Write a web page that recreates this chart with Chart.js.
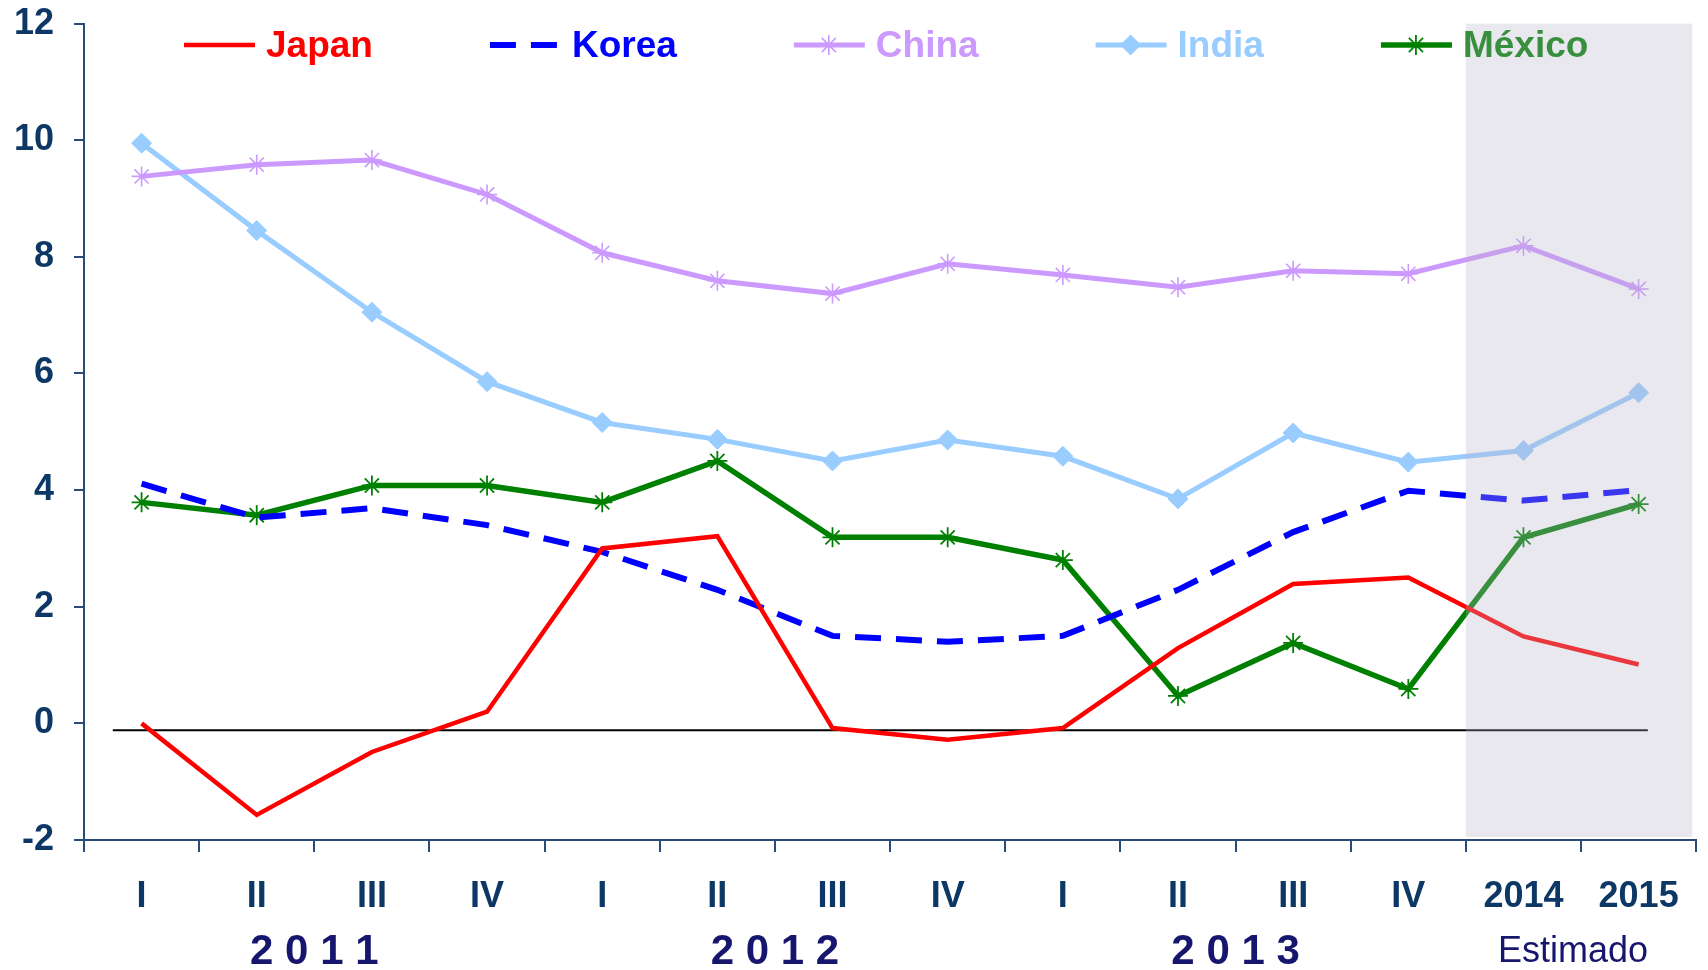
<!DOCTYPE html>
<html>
<head>
<meta charset="utf-8">
<script src="https://cdn.jsdelivr.net/npm/chart.js@4.4.1/dist/chart.umd.min.js"></script>
<style>
  html, body { margin: 0; padding: 0; background: #fff; }
  #chart { display: block; }
</style>
</head>
<body>
<canvas id="chart" width="1708" height="970"></canvas>
<script>
// Categories (quarters, then yearly estimates)
const quarters = ["I", "II", "III", "IV", "I", "II", "III", "IV", "I", "II", "III", "IV", "2014", "2015"];

// Year groups under the quarter labels
const yearLabels = ["2 0 1 1", "2 0 1 2", "2 0 1 3", "Estimado"];
const yearFrom = [0, 4, 8, 12];
const yearTo = [3, 7, 11, 13];

// Series values (% growth)
const japan = [0, -1.57, -0.49, 0.2, 3.0, 3.21, -0.08, -0.28, -0.08, 1.29, 2.39, 2.5, 1.49, 1.01];
const korea = [4.11, 3.53, 3.69, 3.4, 2.94, 2.29, 1.5, 1.4, 1.5, 2.29, 3.28, 3.99, 3.82, 4.0];
const china = [9.38, 9.58, 9.66, 9.07, 8.07, 7.59, 7.37, 7.88, 7.69, 7.48, 7.76, 7.71, 8.19, 7.45];
const india = [9.95, 8.45, 7.05, 5.86, 5.16, 4.87, 4.5, 4.86, 4.58, 3.85, 4.98, 4.48, 4.68, 5.67];
const mexico = [3.79, 3.57, 4.08, 4.08, 3.79, 4.5, 3.19, 3.19, 2.8, 0.47, 1.38, 0.59, 3.19, 3.76];

// Y axis
const yMin = -2;
const yMax = 12;
const yStep = 2;

// Estimated range (shaded) and reference line
const estimatedFrom = 11.5;
const refLineValue = -0.12;

const AXIS_COLOR = "#2b4a78";
const TICK_COLOR = "#0d3866";
const YEAR_COLOR = "#16166e";
const FONT = "'Liberation Sans', Arial, sans-serif";

const datasets = [
  { label: "Japan", data: japan, borderColor: "#ff0000", backgroundColor: "#ff0000",
    borderWidth: 4.5, pointRadius: 0 },
  { label: "Korea", data: korea, borderColor: "#0000ff", backgroundColor: "#0000ff",
    borderWidth: 6, borderDash: [26, 15], pointRadius: 0 },
  { label: "China", data: china, borderColor: "#cc99ff", backgroundColor: "#cc99ff",
    borderWidth: 5, pointStyle: "star", pointRadius: 10, pointBorderWidth: 1.6 },
  { label: "India", data: india, borderColor: "#99ccff", backgroundColor: "#99ccff",
    borderWidth: 5, pointStyle: "rectRot", pointRadius: 10, pointBorderWidth: 1 },
  { label: "México", data: mexico, borderColor: "#008000", backgroundColor: "#008000",
    borderWidth: 5.5, pointStyle: "star", pointRadius: 10, pointBorderWidth: 1.8 }
];

// Reference line, legend, shading, year labels
const decorations = {
  id: "decorations",
  beforeDatasetsDraw(chart) {
    const { ctx, scales: { x, y } } = chart;
    ctx.save();
    // black line just under zero
    ctx.strokeStyle = "#000";
    ctx.lineWidth = 2;
    ctx.beginPath();
    ctx.moveTo(x.getPixelForValue(-0.25), y.getPixelForValue(refLineValue));
    ctx.lineTo(x.getPixelForValue(13.08), y.getPixelForValue(refLineValue));
    ctx.stroke();

    // legend
    ctx.font = "bold 37px " + FONT;
    ctx.textBaseline = "middle";
    let lx = 184;
    const ly = 45;
    chart.data.datasets.forEach(ds => {
      ctx.strokeStyle = ds.borderColor;
      ctx.lineWidth = ds.borderWidth;
      ctx.setLineDash(ds.borderDash || []);
      ctx.beginPath();
      ctx.moveTo(lx, ly);
      ctx.lineTo(lx + 71, ly);
      ctx.stroke();
      ctx.setLineDash([]);
      if (ds.pointRadius) {
        ctx.fillStyle = ds.backgroundColor;
        ctx.lineWidth = ds.pointBorderWidth;
        Chart.helpers.drawPoint(ctx, { pointStyle: ds.pointStyle, radius: ds.pointRadius,
          borderWidth: ds.pointBorderWidth, rotation: 0 }, lx + 35, ly);
      }
      ctx.fillStyle = ds.borderColor;
      ctx.fillText(ds.label, lx + 82, ly + 2);
      lx += 82 + ctx.measureText(ds.label).width + 117;
    });
    ctx.restore();
  },
  afterDatasetsDraw(chart) {
    const { ctx, chartArea, scales: { x } } = chart;
    ctx.save();
    ctx.fillStyle = "rgba(185, 178, 202, 0.3)";
    const left = x.getPixelForValue(estimatedFrom);
    ctx.fillRect(left, chartArea.top, chartArea.right - 4 - left, chartArea.bottom - 3 - chartArea.top);
    ctx.restore();
  },
  afterDraw(chart) {
    const { ctx, scales: { x } } = chart;
    ctx.save();
    ctx.fillStyle = YEAR_COLOR;
    ctx.textAlign = "center";
    ctx.textBaseline = "middle";
    yearLabels.forEach((lab, i) => {
      const est = lab === "Estimado";
      ctx.font = (est ? "36px " : "bold 42px ") + FONT;
      const cx = x.getPixelForValue((yearFrom[i] + yearTo[i]) / 2) - (est ? 8 : 0);
      ctx.fillText(lab, cx, 952);
    });
    ctx.restore();
  }
};

new Chart(document.getElementById("chart").getContext("2d"), {
  type: "line",
  data: { labels: quarters, datasets },
  options: {
    responsive: false,
    animation: false,
    devicePixelRatio: 1,
    layout: { padding: { top: 9, right: 9, left: 0, bottom: 0 } },
    elements: { line: { tension: 0 } },
    plugins: { legend: { display: false }, tooltip: { enabled: false } },
    scales: {
      x: {
        offset: true,
        afterFit: s => { s.height = 130; },
        grid: { drawOnChartArea: false, offset: true, color: AXIS_COLOR, lineWidth: 2, tickLength: 12 },
        border: { color: AXIS_COLOR, width: 2 },
        ticks: { color: TICK_COLOR, font: { family: FONT, size: 36, weight: "bold" }, padding: 23,
          maxRotation: 0, autoSkip: false }
      },
      y: {
        min: yMin,
        max: yMax,
        afterFit: s => { s.width = 84; },
        grid: { drawOnChartArea: false, color: AXIS_COLOR, lineWidth: 2, tickLength: 10 },
        border: { color: AXIS_COLOR, width: 2 },
        ticks: { stepSize: yStep, color: TICK_COLOR, padding: 20,
          font: { family: FONT, size: 36, weight: "bold", lineHeight: 0.2 } }
      }
    }
  },
  plugins: [decorations]
});
</script>
</body>
</html>
